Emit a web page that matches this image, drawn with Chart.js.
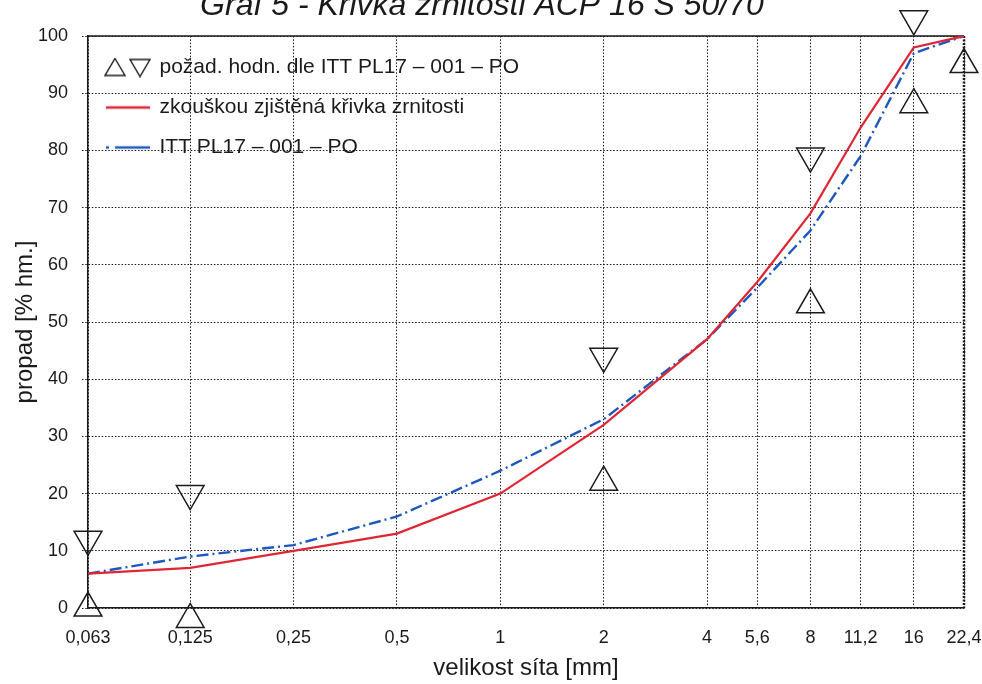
<!DOCTYPE html>
<html>
<head>
<meta charset="utf-8">
<script src="https://cdn.jsdelivr.net/npm/chart.js@4.4.1/dist/chart.umd.min.js"></script>
<style>
    body { margin: 0; background: #fff; overflow: hidden; }
    #wrap { width: 982px; height: 684px; overflow: hidden; }
    #chart { display: block; margin-top: -20px; }
</style>
</head>
<body>
<div id="wrap"><canvas id="chart" width="982" height="704"></canvas></div>
<script>
// sieve sizes [mm]
var sieves = [0.063, 0.125, 0.25, 0.5, 1, 2, 4, 5.6, 8, 11.2, 16, 22.4];
// passing [% by mass]
var measured = [6, 7, 10, 13, 20, 32, 47, 57, 69, 84, 98, 100];
var ittCurve = [6, 9, 11, 16, 24, 33, 47, 56, 66, 79, 97, 100];
// required limits (ITT PL17 - 001 - PO)
var lowerSieves = [0.063, 0.125, 2, 8, 16, 22.4];
var lowerLimit = [0, -2, 22, 53, 88, 95];
var upperSieves = [0.063, 0.125, 2, 8, 16];
var upperLimit = [12, 20, 44, 79, 103];
var yTicks = [0, 10, 20, 30, 40, 50, 60, 70, 80, 90, 100];

var labelLimits = 'požad. hodn. dle ITT PL17 – 001 – PO';
var labelMeasured = 'zkouškou zjištěná křivka zrnitosti';
var labelItt = 'ITT PL17 – 001 – PO';

var RED = 'rgb(222, 38, 52)';
var BLUE = 'rgb(30, 88, 190)';
var INK = '#1a1a1a';
var FONT = "'Liberation Sans', Arial, Helvetica, sans-serif";

function pairs(xs, ys) {
    return xs.map(function (x, i) { return { x: x, y: ys[i] }; });
}

// small pictures for the legend
function legendTriangles() {
    var c = document.createElement('canvas');
    c.width = 48; c.height = 20;
    var g = c.getContext('2d');
    g.strokeStyle = INK; g.lineWidth = 1.4;
    g.beginPath();
    g.moveTo(11, 1); g.lineTo(21, 18); g.lineTo(1, 18); g.closePath();
    g.stroke();
    g.beginPath();
    g.moveTo(26, 2); g.lineTo(46, 2); g.lineTo(36, 19); g.closePath();
    g.stroke();
    return c;
}
function legendLine(color, dash, width) {
    var c = document.createElement('canvas');
    c.width = 44; c.height = 8;
    var g = c.getContext('2d');
    g.strokeStyle = color; g.lineWidth = width;
    g.setLineDash(dash);
    g.beginPath();
    g.moveTo(0, 4); g.lineTo(44, 4);
    g.stroke();
    return c;
}

var frame = {
    id: 'frame',
    // legend sits inside the plot, below its top edge
    afterLayout: function (chart) {
        var lg = chart.legend;
        if (!lg) return;
        var h = lg.height;
        lg.top = chart.chartArea.top + 2;
        lg.bottom = lg.top + h;
    },
    beforeDatasetsDraw: function (chart) {
        var a = chart.chartArea, ctx = chart.ctx;
        ctx.save();
        ctx.strokeStyle = INK;
        ctx.lineWidth = 1.5;
        ctx.beginPath();
        ctx.moveTo(a.left, a.top); ctx.lineTo(a.right, a.top);
        ctx.stroke();
        ctx.lineWidth = 2.5;
        ctx.setLineDash([2, 1.5]);
        ctx.beginPath();
        ctx.moveTo(a.right, a.top); ctx.lineTo(a.right, a.bottom);
        ctx.stroke();
        ctx.restore();
    }
};

var ctx = document.getElementById('chart');

var chart = new Chart(ctx, {
    type: 'line',
    data: {
        datasets: [{
            label: labelMeasured,
            data: pairs(sieves, measured),
            borderColor: RED,
            borderWidth: 2.2,
            pointRadius: 0,
            fill: false,
            tension: 0
        }, {
            label: labelItt,
            data: pairs(sieves, ittCurve),
            borderColor: BLUE,
            borderWidth: 2.4,
            borderDash: [12, 4, 2, 4],
            pointRadius: 0,
            fill: false,
            tension: 0
        }, {
            label: labelLimits,
            data: pairs(lowerSieves, lowerLimit),
            showLine: false,
            pointStyle: 'triangle',
            pointRadius: 16,
            pointBorderWidth: 1.5,
            pointBorderColor: INK,
            pointBackgroundColor: 'rgba(255,255,255,0)',
            clip: false
        }, {
            label: labelLimits,
            data: pairs(upperSieves, upperLimit),
            showLine: false,
            pointStyle: 'triangle',
            rotation: 180,
            pointRadius: 16,
            pointBorderWidth: 1.5,
            pointBorderColor: INK,
            pointBackgroundColor: 'rgba(255,255,255,0)',
            clip: false
        }]
    },
    options: {
        responsive: false,
        animation: false,
        layout: { padding: { left: 0, right: 18, top: 0, bottom: 0 } },
        plugins: {
            title: {
                display: true,
                text: 'Graf 5 - Křivka zrnitosti ACP 16 S 50/70',
                color: INK,
                font: { family: FONT, size: 32, style: 'italic', weight: 'normal' },
                padding: { top: 6.6, bottom: 11 }
            },
            legend: {
                position: 'chartArea',
                align: 'start',
                labels: {
                    usePointStyle: true,
                    pointStyleWidth: 42,
                    padding: 19,
                    color: INK,
                    font: { family: FONT, size: 21 },
                    generateLabels: function () {
                        return [
                            { text: labelLimits, pointStyle: legendTriangles(), datasetIndex: 2, fontColor: INK },
                            { text: labelMeasured, pointStyle: legendLine(RED, [], 2.4), datasetIndex: 0, fontColor: INK },
                            { text: labelItt, pointStyle: legendLine(BLUE, [3, 6, 40], 2.6), datasetIndex: 1, fontColor: INK }
                        ];
                    }
                }
            },
            tooltip: { enabled: false }
        },
        scales: {
            x: {
                type: 'logarithmic',
                min: sieves[0],
                max: sieves[sieves.length - 1],
                afterBuildTicks: function (scale) {
                    scale.ticks = sieves.map(function (v) { return { value: v }; });
                },
                afterFit: function (scale) { scale.height = 76; },
                ticks: {
                    autoSkip: false,
                    maxRotation: 0,
                    padding: 0,
                    color: INK,
                    font: { family: FONT, size: 18 },
                    callback: function (v) { return String(v).replace('.', ','); }
                },
                grid: { color: INK, lineWidth: 1, drawTicks: true, tickLength: 19, tickColor: 'rgba(0,0,0,0)' },
                border: { color: INK, width: 1.5, dash: [1.5, 1.8] },
                title: {
                    display: true,
                    text: 'velikost síta [mm]',
                    color: INK,
                    font: { family: FONT, size: 24 },
                    padding: { top: 0, bottom: 1.6 }
                }
            },
            y: {
                min: 0,
                max: 100,
                afterBuildTicks: function (scale) {
                    scale.ticks = yTicks.map(function (v) { return { value: v }; });
                },
                afterFit: function (scale) { scale.width = 88; },
                ticks: {
                    padding: 14,
                    color: INK,
                    font: { family: FONT, size: 18 }
                },
                grid: { color: INK, lineWidth: 1, drawTicks: true, tickLength: 6, tickBorderDash: [1.5, 1.8] },
                border: { color: INK, width: 1.5, dash: [1.5, 1.8] },
                title: {
                    display: true,
                    text: 'propad [% hm.]',
                    color: INK,
                    font: { family: FONT, size: 24 },
                    padding: { top: 10.6, bottom: 0 }
                }
            }
        }
    },
    plugins: [frame]
});
</script>
</body>
</html>
